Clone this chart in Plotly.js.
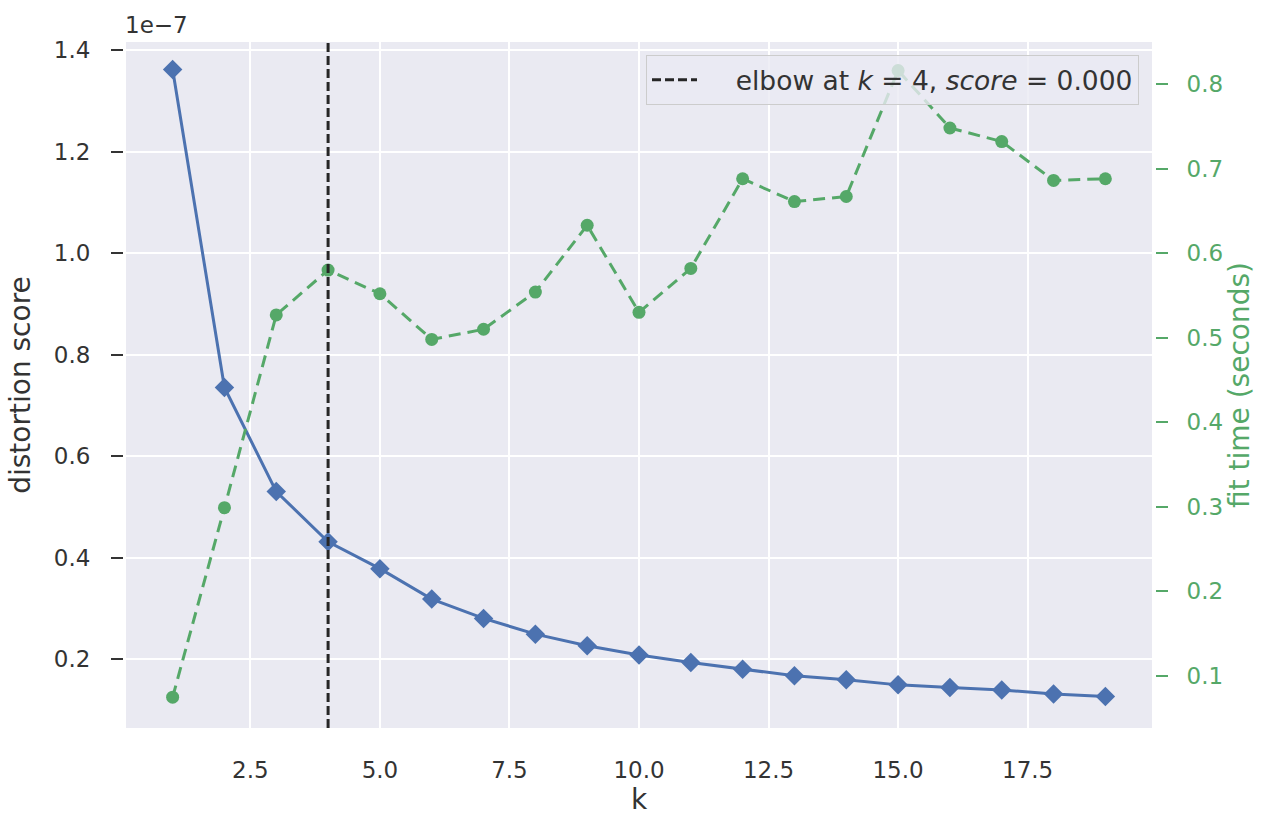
<!DOCTYPE html>
<html>
<head>
<meta charset="utf-8">
<script src="https://cdn.plot.ly/plotly-3.0.1.min.js"></script>
<style>html,body{margin:0;padding:0;background:#fff;}#chart{width:1261px;height:816px;}</style>
</head>
<body>
<div id="chart"></div>
<script>
// ---- data ----
const kValues = [1,2,3,4,5,6,7,8,9,10,11,12,13,14,15,16,17,18,19];
const distortionScore = [1.362,0.735,0.530,0.431,0.378,0.318,0.280,0.249,0.226,0.208,0.193,0.180,0.167,0.159,0.149,0.144,0.139,0.131,0.126]; // x 1e-7
const fitTimeSeconds = [0.075,0.299,0.527,0.580,0.552,0.498,0.510,0.554,0.633,0.530,0.582,0.688,0.661,0.667,0.816,0.748,0.732,0.686,0.688];
const elbowK = 4;
const elbowScore = 0.000;
const xTickVals = [2.5,5.0,7.5,10.0,12.5,15.0,17.5];
const xTickText = ["2.5","5.0","7.5","10.0","12.5","15.0","17.5"];
const yTickVals = [0.2,0.4,0.6,0.8,1.0,1.2,1.4];
const yTickText = ["0.2","0.4","0.6","0.8","1.0","1.2","1.4"];
const y2TickVals = [0.1,0.2,0.3,0.4,0.5,0.6,0.7,0.8];
const y2TickText = ["0.1","0.2","0.3","0.4","0.5","0.6","0.7","0.8"];

const BLUE = '#4C72B0', GREEN = '#55A868', TXT = '#333333';
const FONT = 'DejaVu Sans, Verdana, sans-serif';
const TICK = 23, TITLE = 28;

const traces = [
  {
    x: kValues, y: distortionScore, type: 'scatter', mode: 'lines+markers',
    line: {color: BLUE, width: 3},
    marker: {symbol: 'diamond', size: 15, color: BLUE},
    showlegend: false, xaxis: 'x', yaxis: 'y', hoverinfo: 'x+y'
  },
  {
    x: kValues, y: fitTimeSeconds, type: 'scatter', mode: 'lines+markers',
    line: {color: GREEN, width: 3, dash: '12px,7px'},
    marker: {symbol: 'circle', size: 13, color: GREEN},
    showlegend: false, xaxis: 'x', yaxis: 'y2', hoverinfo: 'x+y'
  }
];

const W = 1261, ML = 123, MR = 106;
const pw = W - ML - MR;
const inset = 3 / pw;
const NB = '\u00a0\u00a0\u00a0\u00a0';

const layout = {
  width: 1261, height: 816,
  margin: {l: ML, r: MR, t: 42, b: 88, pad: 0},
  paper_bgcolor: '#ffffff',
  plot_bgcolor: '#EAEAF2',
  font: {family: FONT, size: TICK, color: TXT},
  showlegend: true,
  xaxis: {
    domain: [inset, 1 - inset],
    range: [0.1, 19.9],
    tickvals: xTickVals, ticktext: xTickText,
    showgrid: true, gridcolor: '#ffffff', gridwidth: 2,
    zeroline: false, showline: false, ticks: '',
    ticklabelstandoff: 26,
    tickfont: {family: FONT, size: TICK, color: TXT},
    title: {text: 'k', font: {family: FONT, size: TITLE, color: TXT}, standoff: 6}
  },
  yaxis: {
    range: [0.064, 1.416],
    anchor: 'free', position: 0,
    tickvals: yTickVals, ticktext: yTickText,
    showgrid: true, gridcolor: '#ffffff', gridwidth: 2,
    zeroline: false, showline: false,
    ticks: 'outside', ticklen: 12, tickwidth: 2, tickcolor: TXT,
    ticklabelstandoff: 16,
    tickfont: {family: FONT, size: TICK, color: TXT},
    title: {text: 'distortion score', font: {family: FONT, size: TITLE, color: TXT}, standoff: 14}
  },
  yaxis2: {
    range: [0.0385, 0.8497],
    overlaying: 'y', side: 'right',
    anchor: 'free', position: 1,
    tickvals: y2TickVals, ticktext: y2TickText,
    showgrid: false, zeroline: false, showline: false,
    ticks: 'outside', ticklen: 12, tickwidth: 2, tickcolor: GREEN,
    ticklabelstandoff: 14,
    tickfont: {family: FONT, size: TICK, color: GREEN},
    title: {text: 'fit time (seconds)', font: {family: FONT, size: TITLE, color: GREEN}, standoff: 0}
  },
  shapes: [{
    type: 'line', xref: 'x', yref: 'paper',
    x0: elbowK, x1: elbowK, y0: 0, y1: 1,
    line: {color: '#262626', width: 3, dash: '9px,4px'},
    showlegend: true,
    name: NB + 'elbow at <i>k</i> = ' + elbowK + ', <i>score</i> = ' + elbowScore.toFixed(3)
  }],
  legend: {
    x: (1139 - ML) / pw, y: 1 - 13 / 686, xanchor: 'right', yanchor: 'top',
    bgcolor: 'rgba(234,234,242,0.8)', bordercolor: '#cccccc', borderwidth: 1,
    font: {family: FONT, size: 26.5, color: TXT},
    itemwidth: 45
  },
  annotations: [{
    text: '1e\u22127', xref: 'paper', yref: 'paper', x: 0, y: 1,
    xanchor: 'left', yanchor: 'bottom', yshift: 2, showarrow: false,
    font: {family: FONT, size: TICK, color: TXT}
  }]
};

Plotly.newPlot('chart', traces, layout, {displayModeBar: false, staticPlot: true});
</script>
</body>
</html>
